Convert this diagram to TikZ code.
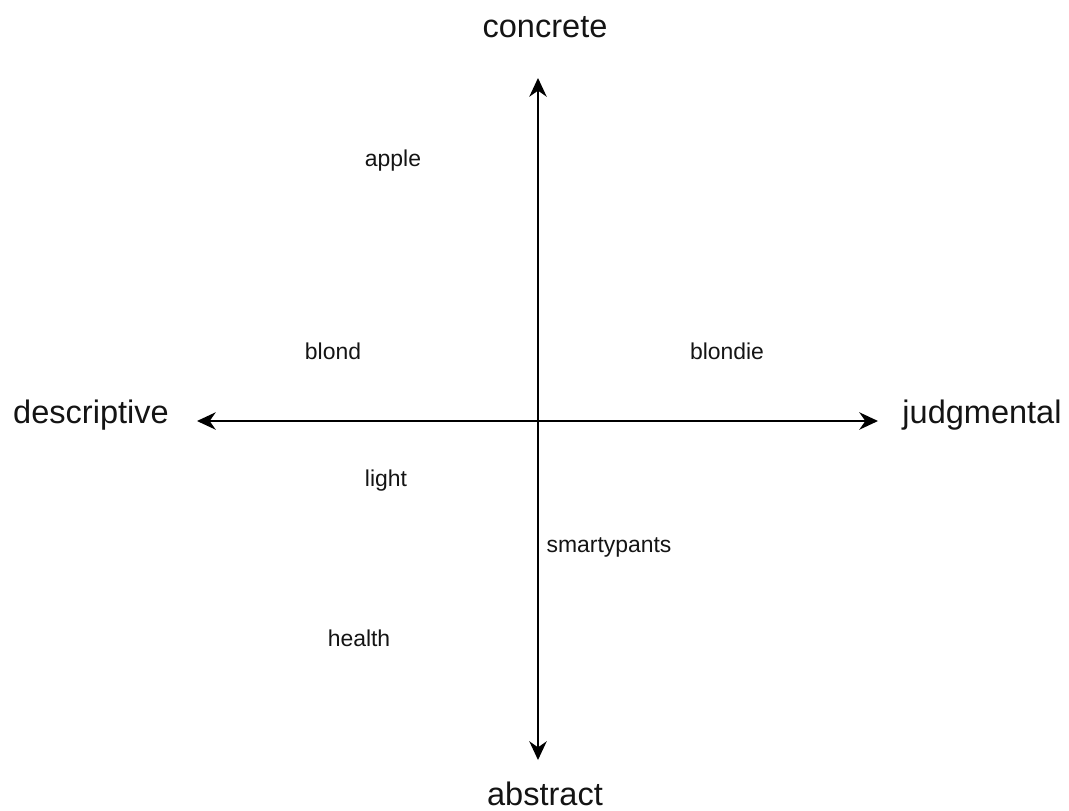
\documentclass[tikz,border=0pt]{standalone}
\usepackage{fontspec}
\setmainfont{Liberation Sans}
\usepackage{tikz}
\usetikzlibrary{arrows.meta, positioning}
\definecolor{mydark}{RGB}{20,20,20}
\tikzset{
  axislabel/.style={anchor=base, inner sep=0pt, text=mydark,
    font=\fontsize{24.4}{28}\selectfont},
  word/.style={anchor=base, inner sep=0pt, text=mydark,
    font=\fontsize{17.2}{21}\selectfont},
  axis/.style={{Stealth[length=14pt, width=13pt, inset=4.5pt]}-{Stealth[length=14pt, width=13pt, inset=4.5pt]},
    line width=1.6pt, color=black}
}
\begin{document}
\begin{tikzpicture}[x=0.75pt, y=-0.75pt]
  \useasboundingbox (0,0) rectangle (1069,810);

  % Axis ends
  \coordinate (top) at (538,78);
  \coordinate (bottom) at (538,760);
  \coordinate (left) at (197,421);
  \coordinate (right) at (878,421);

  % Axis labels
  \node[axislabel] (concrete) at (545,37) {concrete};
  \node[axislabel] (abstract) at (545,805) {abstract};
  \node[axislabel] (descriptive) at (91,423) {descriptive};
  \node[axislabel] (judgmental) at (982,423) {judgmental};

  % Words
  \node[word] (apple) at (393,166) {apple};
  \node[word] (blond) at (333,359) {blond};
  \node[word] (blondie) at (727,359) {blondie};
  \node[word] (light) at (386,486) {light};
  \node[word] (smartypants) at (609,552) {smartypants};
  \node[word] (health) at (359,646) {health};

  % Axes
  \draw[axis] (top) -- (bottom);
  \draw[axis] (left) -- (right);

\end{tikzpicture}
\end{document}
